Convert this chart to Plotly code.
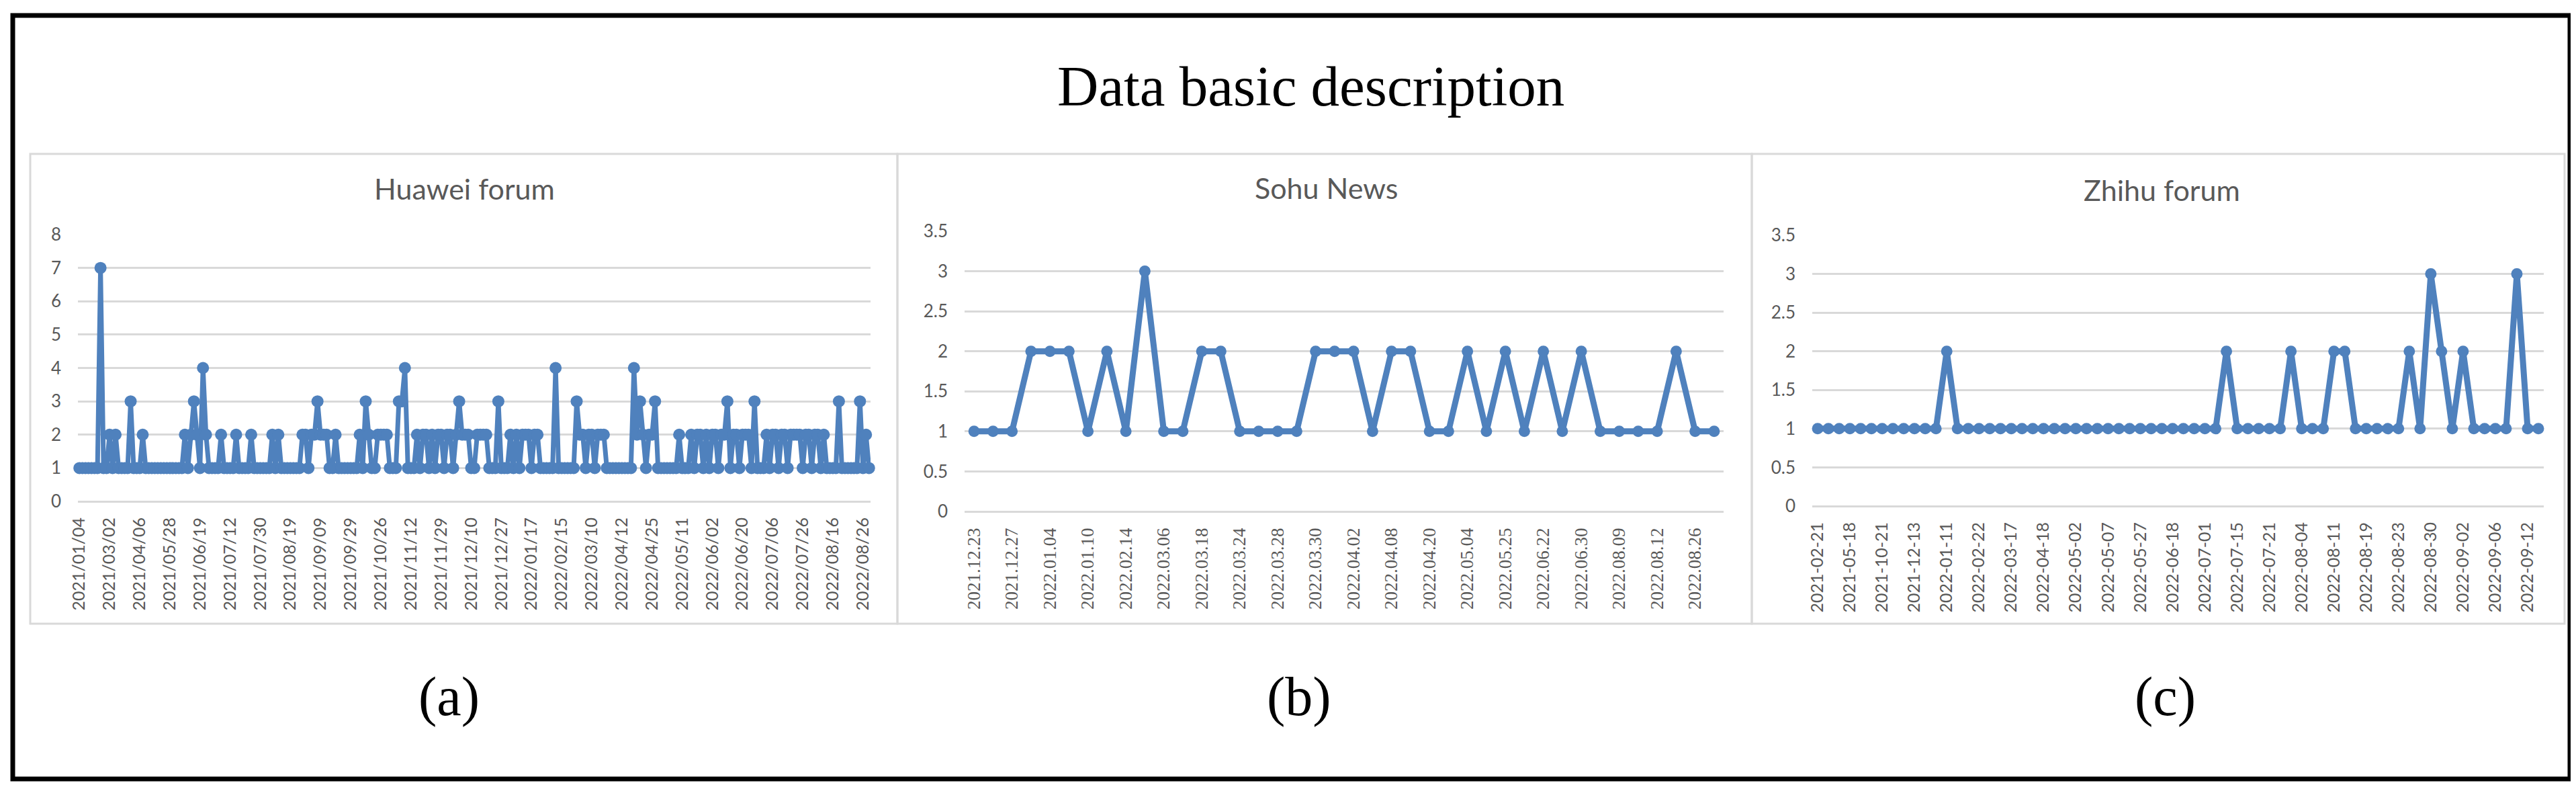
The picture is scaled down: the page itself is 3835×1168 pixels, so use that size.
import plotly.graph_objects as go

# ---------------- data ----------------
huawei_ticks = ["2021/01/04", "2021/03/02", "2021/04/06", "2021/05/28", "2021/06/19", "2021/07/12",
                "2021/07/30", "2021/08/19", "2021/09/09", "2021/09/29", "2021/10/26", "2021/11/12",
                "2021/11/29", "2021/12/10", "2021/12/27", "2022/01/17", "2022/02/15", "2022/03/10",
                "2022/04/12", "2022/04/25", "2022/05/11", "2022/06/02", "2022/06/20", "2022/07/06",
                "2022/07/26", "2022/08/16", "2022/08/26"]
huawei_values = [
    1, 1, 1, 1, 1, 1, 1, 7, 1, 1,
    2, 1, 2, 1, 1, 1, 1, 3, 1, 1,
    1, 2, 1, 1, 1, 1, 1, 1, 1, 1,
    1, 1, 1, 1, 1, 2, 1, 2, 3, 2,
    1, 4, 2, 1, 1, 1, 1, 2, 1, 1,
    1, 1, 2, 1, 1, 1, 1, 2, 1, 1,
    1, 1, 1, 1, 2, 1, 2, 1, 1, 1,
    1, 1, 1, 1, 2, 2, 1, 2, 2, 3,
    2, 2, 2, 1, 1, 2, 1, 1, 1, 1,
    1, 1, 1, 2, 1, 3, 2, 1, 1, 2,
    2, 2, 2, 1, 1, 1, 3, 3, 4, 1,
    1, 1, 2, 1, 2, 2, 1, 2, 1, 2,
    2, 1, 2, 2, 1, 2, 3, 2, 2, 2,
    1, 1, 2, 2, 2, 2, 1, 1, 1, 3,
    1, 1, 1, 2, 1, 2, 1, 2, 2, 2,
    1, 2, 2, 1, 1, 1, 1, 1, 4, 1,
    1, 1, 1, 1, 1, 3, 2, 2, 1, 2,
    2, 1, 2, 2, 2, 1, 1, 1, 1, 1,
    1, 1, 1, 1, 4, 2, 3, 2, 1, 2,
    2, 3, 1, 1, 1, 1, 1, 1, 1, 2,
    1, 1, 1, 2, 1, 2, 2, 1, 2, 1,
    2, 2, 1, 2, 2, 3, 1, 2, 2, 1,
    2, 2, 2, 1, 3, 1, 1, 1, 2, 1,
    2, 2, 1, 2, 2, 1, 2, 2, 2, 2,
    1, 2, 2, 1, 2, 2, 1, 2, 1, 1,
    1, 1, 3, 1, 1, 1, 1, 1, 1, 3,
    1, 2, 1,
]
huawei_label_step = 10

sohu_ticks = ["2021.12.23", "2021.12.27", "2022.01.04", "2022.01.10", "2022.02.14", "2022.03.06",
              "2022.03.18", "2022.03.24", "2022.03.28", "2022.03.30", "2022.04.02", "2022.04.08",
              "2022.04.20", "2022.05.04", "2022.05.25", "2022.06.22", "2022.06.30", "2022.08.09",
              "2022.08.12", "2022.08.26"]
sohu_values = [1, 1, 1, 2, 2, 2, 1, 2, 1, 3,
               1, 1, 2, 2, 1, 1, 1, 1, 2, 2,
               2, 1, 2, 2, 1, 1, 2, 1, 2, 1,
               2, 1, 2, 1, 1, 1, 1, 2, 1, 1]
sohu_label_step = 2

zhihu_ticks = ["2021-02-21", "2021-05-18", "2021-10-21", "2021-12-13", "2022-01-11", "2022-02-22",
               "2022-03-17", "2022-04-18", "2022-05-02", "2022-05-07", "2022-05-27", "2022-06-18",
               "2022-07-01", "2022-07-15", "2022-07-21", "2022-08-04", "2022-08-11", "2022-08-19",
               "2022-08-23", "2022-08-30", "2022-09-02", "2022-09-06", "2022-09-12"]
zhihu_values = [1, 1, 1, 1, 1, 1, 1, 1, 1, 1,
                1, 1, 2, 1, 1, 1, 1, 1, 1, 1,
                1, 1, 1, 1, 1, 1, 1, 1, 1, 1,
                1, 1, 1, 1, 1, 1, 1, 1, 2, 1,
                1, 1, 1, 1, 2, 1, 1, 1, 2, 2,
                1, 1, 1, 1, 1, 2, 1, 3, 2, 1,
                2, 1, 1, 1, 1, 3, 1, 1]
zhihu_label_step = 3

panel_titles = ["Huawei forum", "Sohu News", "Zhihu forum"]
sub_labels = ["(a)", "(b)", "(c)"]
main_title = "Data basic description"

# ---------------- layout helpers ----------------
W, H = 3835, 1168


def px(x):
    return x / W


def py(y):
    return 1 - y / H


BLUE = "#4F81BD"
GRID = "#D9D9D9"
TXT = "#595959"
SANS = "Lato, Calibri, Carlito, 'Open Sans', sans-serif"
SERIF = "'Liberation Serif', 'Times New Roman', serif"

fig = go.Figure()

panels = [
    dict(vals=huawei_values, ticks=huawei_ticks, step=huawei_label_step,
         x0=108, x1=1288, ytop=341, ybot=738, ymax=8, dtick=1,
         xfont=dict(family=SANS, size=25, color=TXT), msize=18, lw=7),
    dict(vals=sohu_values, ticks=sohu_ticks, step=sohu_label_step,
         x0=1428, x1=2558, ytop=336, ybot=753, ymax=3.5, dtick=0.5,
         xfont=dict(family=SERIF, size=27, color=TXT), msize=17, lw=9),
    dict(vals=zhihu_values, ticks=zhihu_ticks, step=zhihu_label_step,
         x0=2690, x1=3779, ytop=342, ybot=745, ymax=3.5, dtick=0.5,
         xfont=dict(family=SANS, size=25, color=TXT), msize=17, lw=9),
]

for k, p in enumerate(panels):
    n = len(p["vals"])
    xs = list(range(n))
    suffix = "" if k == 0 else str(k + 1)
    fig.add_trace(go.Scatter(
        x=xs, y=p["vals"], mode="lines+markers",
        line=dict(color=BLUE, width=p["lw"]),
        marker=dict(color=BLUE, size=p["msize"], line=dict(width=0)),
        xaxis="x" + suffix, yaxis="y" + suffix, showlegend=False, cliponaxis=False,
    ))
    tickvals = [i * p["step"] for i in range(len(p["ticks"]))]
    fig.update_layout(**{
        "xaxis" + suffix: dict(
            domain=[px(p["x0"]), px(p["x1"])], anchor="y" + suffix,
            range=[-0.5, n - 0.5], tickmode="array", tickvals=tickvals, ticktext=p["ticks"],
            tickangle=-90, tickfont=p["xfont"], showgrid=False, zeroline=False, showline=False,
            ticks="", ticklabelstandoff=18, automargin=False, fixedrange=True,
        ),
        "yaxis" + suffix: dict(
            domain=[py(p["ybot"]), py(p["ytop"])], anchor="x" + suffix,
            range=[0, p["ymax"]], dtick=p["dtick"], tick0=0,
            showgrid=True, gridcolor=GRID, gridwidth=3,
            zeroline=True, zerolinecolor=GRID, zerolinewidth=3, showline=False,
            ticks="", ticklabelstandoff=24, tickfont=dict(family=SANS, size=26, color=TXT),
            automargin=False, fixedrange=True,
        ),
    })

shapes = []
# panel frames
for (a, b) in [(37, 1328), (1328, 2600), (2600, 3810)]:
    shapes.append(dict(type="rect", xref="paper", yref="paper",
                       x0=px(a), x1=px(b), y0=py(920), y1=py(221),
                       line=dict(color=GRID, width=3), layer="below"))
# outer black frame
shapes.append(dict(type="rect", xref="paper", yref="paper",
                   x0=px(11), x1=px(3818), y0=py(1151), y1=py(15),
                   line=dict(color="black", width=7)))

annotations = [
    dict(text=main_title, x=px(1944), y=py(120), xref="paper", yref="paper",
         xanchor="center", yanchor="middle", showarrow=False,
         font=dict(family=SERIF, size=85, color="black")),
]
for cx, cy, t in [(683, 272, panel_titles[0]), (1966, 271, panel_titles[1]), (3210, 274, panel_titles[2])]:
    annotations.append(dict(text=t, x=px(cx), y=py(cy), xref="paper", yref="paper",
                            xanchor="center", yanchor="middle", showarrow=False,
                            font=dict(family=SANS, size=43, color=TXT)))
for cx, t in [(660, sub_labels[0]), (1926, sub_labels[1]), (3215, sub_labels[2])]:
    annotations.append(dict(text=t, x=px(cx), y=py(1028), xref="paper", yref="paper",
                            xanchor="center", yanchor="middle", showarrow=False,
                            font=dict(family=SERIF, size=82, color="black")))

fig.update_layout(
    template="none",
    width=W, height=H,
    margin=dict(l=0, r=0, t=0, b=0, pad=0),
    paper_bgcolor="white", plot_bgcolor="white",
    shapes=shapes, annotations=annotations,
    showlegend=False,
)

fig.write_html("out.html", config={"displayModeBar": False})
